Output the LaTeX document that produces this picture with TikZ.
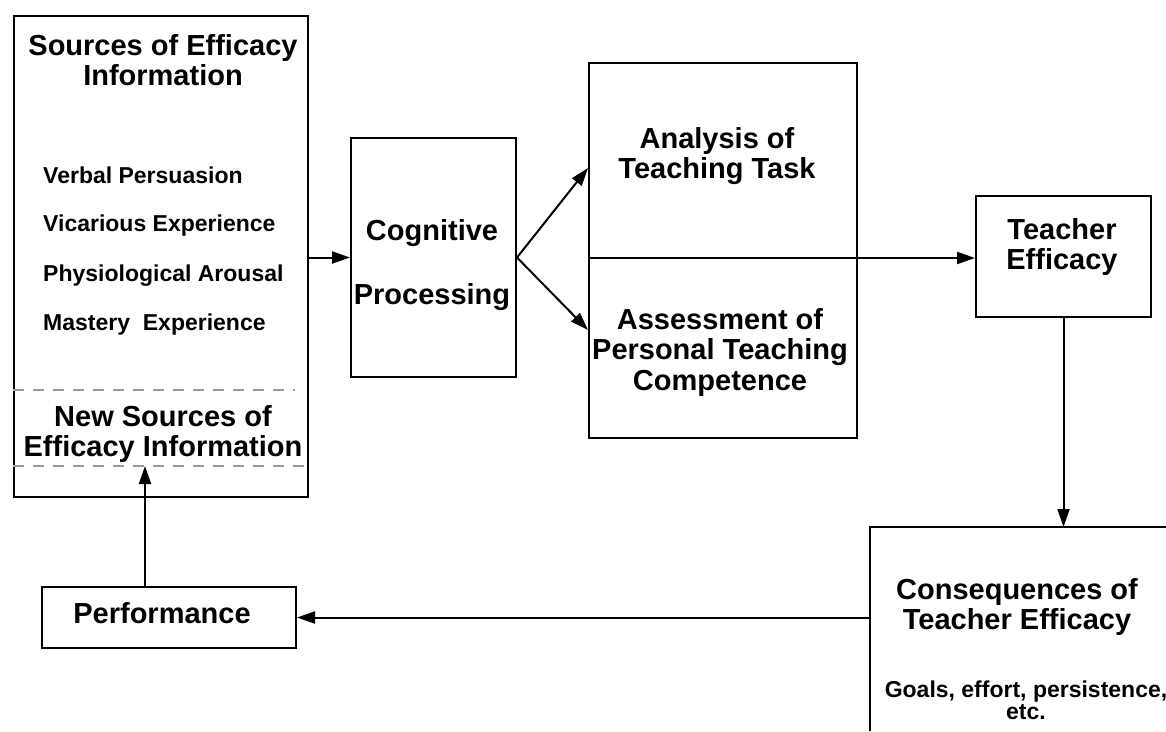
\documentclass[tikz,border=0pt]{standalone}
\usepackage{fontspec}
\setmainfont{Liberation Sans}
\usetikzlibrary{arrows.meta}

\tikzset{
  box/.style={draw, line width=2pt, inner sep=0pt},
  head/.style={font=\fontsize{29}{30.5}\selectfont\bfseries, align=center, inner sep=0pt},
  item/.style={font=\fontsize{23}{26}\selectfont\bfseries, anchor=west, inner sep=0pt},
  note/.style={font=\fontsize{23}{22}\selectfont\bfseries, align=center, inner sep=0pt},
  link/.style={-{Triangle[length=18pt,width=12pt]}, line width=2pt},
  split/.style={line width=2pt, draw=gray!80, dash pattern=on 11pt off 9pt},
}

\begin{document}
\begin{tikzpicture}[x=1pt,y=-1pt]
  \useasboundingbox (0,0) rectangle (1166,731);
  % boxes
  \node[box, anchor=north west, minimum width=294pt, minimum height=481pt] (src) at (13,15) {};
  \node[box, anchor=north west, minimum width=165pt, minimum height=239pt] (cog) at (350,137) {};
  \node[box, anchor=north west, minimum width=268pt, minimum height=375pt] (task) at (588,62) {};
  \node[box, anchor=north west, minimum width=175pt, minimum height=121pt] (eff) at (975,195) {};
  \node[box, anchor=north west, minimum width=254pt, minimum height=61pt] (perf) at (41,586) {};
  \node[anchor=north west, minimum width=296pt, minimum height=204pt, inner sep=0pt] (cons) at (870,527) {};
  \draw[line width=2pt] (cons.south west) |- (cons.north east);
  % dashed parts of the sources box
  \draw[split] (src.west |- 0,390) -- (295,390);
  \draw[split] (src.west |- 0,466) -- (src.east |- 0,466);
  % texts
  \node[head] (srcT) at (163,60) {Sources of Efficacy\\Information};
  \node[item] (verbal) at (43,175) {Verbal Persuasion};
  \node[item] (vicar) at (43,226) {Vicarious Experience};
  \node[item] (physio) at (43,276) {Physiological Arousal};
  \node[item] (mastery) at (43,325) {Mastery\ \ Experience};
  \node[head] (newT) at (163,434) {New Sources of\\Efficacy Information};
  \node[head] (cogT) at (432,265) {Cognitive\\[34pt]Processing};
  \node[head] (anaT) at (717,156) {Analysis of\\Teaching Task};
  \node[head] (assT) at (720,352) {Assessment of\\Personal Teaching\\Competence};
  \node[head] (effT) at (1062,247) {Teacher\\Efficacy};
  \node[head] (consT) at (1017,607) {Consequences of\\Teacher Efficacy};
  \node[note] (goals) at (1026,700) {Goals, effort, persistence,\\etc.};
  \node[head] (perfT) at (162,613) {Performance};
  % connectors
  \coordinate (up) at (588,168);
  \coordinate (dn) at (588,330);
  \coordinate (mid) at (588,258);
  \coordinate (fb) at (145,466);
  \draw[link] (src.east |- cog) -- (cog.west);
  \draw[link] (cog.east) -- (up);
  \draw[link] (cog.east) -- (dn);
  \draw[link] (mid) -- (eff.west |- mid);
  \draw[link] (eff.south) -- (eff.south |- cons.north);
  \draw[link] (cons.west |- perf) -- (perf.east);
  \draw[link] (perf.north -| fb) -- (fb);
\end{tikzpicture}
\end{document}
